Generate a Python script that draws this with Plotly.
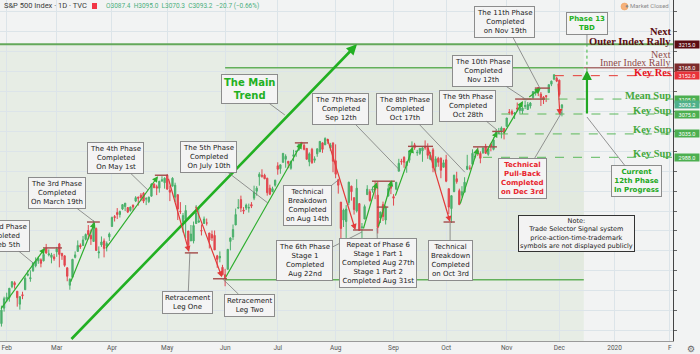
import pandas as pd
import plotly.graph_objects as go

# ---------------- data ----------------
HOLIDAYS = ["2019-02-18", "2019-04-19", "2019-05-27", "2019-07-04", "2019-09-02",
            "2019-11-28", "2019-12-25", "2020-01-01", "2020-01-20", "2020-02-17"]
CAL = list(pd.bdate_range("2019-01-28", "2020-02-14", freq="C", holidays=HOLIDAYS))
ANCHOR = CAL.index(pd.Timestamp("2019-02-01"))


def X(d):
    return CAL.index(pd.Timestamp(d)) - ANCHOR


FIRST_DAY = "2019-01-30"
LAST_DAY = "2019-12-03"
dates = CAL[CAL.index(pd.Timestamp(FIRST_DAY)):CAL.index(pd.Timestamp(LAST_DAY)) + 1]

opens = [2654, 2685,
         2703, 2706, 2728, 2736, 2719, 2693, 2712, 2722, 2751, 2744, 2760, 2770, 2780, 2782, 2780, 2805, 2792, 2787, 2788,
         2798, 2814, 2795, 2790, 2766, 2731, 2747, 2787, 2799, 2811, 2811, 2823, 2841, 2831, 2819, 2845, 2796, 2812, 2820, 2810, 2828,
         2849, 2869, 2877, 2873, 2884, 2889, 2887, 2881, 2892, 2900, 2908, 2912, 2916, 2904, 2899, 2910, 2934, 2929, 2926, 2940, 2937,
         2952, 2922, 2930, 2908, 2913, 2880, 2859, 2863, 2840, 2820, 2820, 2855, 2858, 2841, 2855, 2856, 2836, 2833, 2831, 2790, 2786, 2767,
         2752, 2763, 2819, 2828, 2852, 2886, 2903, 2882, 2886, 2886, 2893, 2906, 2920, 2949, 2952, 2952, 2946, 2926, 2919, 2932,
         2971, 2965, 2978, 2984, 2980, 2966, 2990, 2999, 3003, 3018, 3012, 3006, 2979, 3004, 2982, 2995, 2999, 3017, 3013, 3024, 3007, 3017,
         2981, 2943, 2898, 2862, 2859, 2897, 2930, 2907, 2880, 2895, 2847, 2864, 2913, 2919, 2922, 2930, 2912, 2866, 2893, 2862, 2910, 2938,
         2909, 2924, 2960, 2980, 2988, 2971, 2982, 3010, 3013, 2997, 2996, 3001, 3010, 3008, 2984, 3003, 2969, 2986, 2986, 2968,
         2983, 2925, 2885, 2919, 2945, 2921, 2912, 2918, 2964, 2966, 2974, 2989, 3001, 2996, 2997, 3010, 2994, 3014, 3004, 3033, 3036, 3039, 3046,
         3050, 3079, 3080, 3075, 3087, 3082, 3081, 3090, 3084, 3091, 3108, 3117, 3128, 3115, 3109, 3112, 3118, 3135, 3145, 3147,
         3143, 3087.4]
highs = [2690, 2708,
         2716, 2725, 2739, 2739, 2719, 2709, 2718, 2749, 2761, 2761, 2776, 2787, 2789, 2785, 2793, 2814, 2803, 2796, 2794,
         2808, 2816, 2796, 2791, 2767, 2745, 2784, 2799, 2821, 2815, 2830, 2835, 2852, 2843, 2861, 2847, 2809, 2829, 2825, 2819, 2837,
         2869, 2872, 2886, 2881, 2893, 2896, 2888, 2889, 2893, 2910, 2909, 2916, 2918, 2908, 2909, 2936, 2936, 2933, 2940, 2950, 2948,
         2954, 2931, 2948, 2937, 2913, 2898, 2876, 2892, 2840, 2852, 2859, 2892, 2886, 2853, 2869, 2865, 2836, 2841, 2841, 2792, 2799, 2772,
         2764, 2804, 2827, 2853, 2885, 2904, 2911, 2888, 2895, 2895, 2898, 2931, 2930, 2958, 2964, 2955, 2947, 2933, 2929, 2943,
         2978, 2973, 2996, 2994, 2980, 2981, 3003, 3002, 3014, 3018, 3016, 3006, 2998, 3007, 2990, 3006, 3019, 3018, 3028, 3025, 3017, 3017,
         3014, 2945, 2898, 2885, 2892, 2939, 2931, 2907, 2944, 2895, 2856, 2893, 2932, 2924, 2929, 2940, 2939, 2879, 2899, 2891, 2931, 2940,
         2914, 2938, 2985, 2985, 2990, 2979, 3001, 3020, 3017, 3003, 3006, 3008, 3022, 3016, 2999, 3007, 2990, 2989, 2988, 2983,
         2993, 2925, 2911, 2953, 2959, 2925, 2930, 2948, 2993, 2972, 3004, 2997, 3008, 3000, 3007, 3015, 3005, 3017, 3028, 3044, 3047, 3050, 3046,
         3066, 3085, 3084, 3079, 3098, 3094, 3088, 3102, 3099, 3099, 3121, 3124, 3128, 3119, 3111, 3112, 3134, 3142, 3154, 3150,
         3144, 3095.0]
lows = [2648, 2678,
        2697, 2698, 2725, 2724, 2688, 2682, 2703, 2722, 2749, 2738, 2758, 2767, 2774, 2767, 2779, 2794, 2789, 2775, 2780,
        2788, 2767, 2782, 2768, 2739, 2722, 2747, 2785, 2799, 2804, 2810, 2821, 2823, 2812, 2818, 2800, 2785, 2808, 2787, 2799, 2820,
        2849, 2859, 2864, 2867, 2882, 2880, 2876, 2879, 2881, 2898, 2891, 2900, 2896, 2892, 2896, 2909, 2926, 2912, 2917, 2940, 2925,
        2923, 2900, 2930, 2898, 2862, 2874, 2837, 2826, 2801, 2820, 2815, 2855, 2856, 2831, 2855, 2851, 2805, 2820, 2802, 2766, 2777, 2751,
        2729, 2763, 2801, 2822, 2852, 2884, 2878, 2874, 2882, 2877, 2886, 2902, 2911, 2931, 2947, 2944, 2911, 2912, 2918, 2929,
        2953, 2955, 2977, 2967, 2966, 2963, 2980, 2989, 3001, 3010, 3002, 2984, 2970, 2975, 2977, 2989, 2999, 2997, 3013, 3015, 3001, 2958,
        2946, 2915, 2822, 2848, 2826, 2892, 2901, 2873, 2877, 2840, 2826, 2864, 2913, 2899, 2917, 2904, 2835, 2856, 2860, 2853, 2910, 2914,
        2891, 2922, 2960, 2973, 2967, 2957, 2977, 3001, 3003, 2991, 2993, 2979, 3003, 2985, 2982, 2958, 2957, 2969, 2946, 2968,
        2938, 2874, 2856, 2918, 2935, 2892, 2907, 2918, 2963, 2962, 2974, 2986, 2991, 2976, 2995, 2995, 2991, 3000, 3002, 3033, 3034, 3026, 3024,
        3050, 3074, 3072, 3065, 3080, 3076, 3075, 3085, 3083, 3086, 3105, 3112, 3111, 3091, 3095, 3099, 3118, 3131, 3143, 3139,
        3110, 3070.3]
closes = [2681, 2704,
          2707, 2725, 2738, 2732, 2706, 2708, 2710, 2745, 2753, 2746, 2776, 2780, 2785, 2775, 2793, 2796, 2794, 2792, 2784,
          2804, 2793, 2790, 2771, 2749, 2743, 2783, 2792, 2811, 2808, 2822, 2833, 2833, 2824, 2855, 2801, 2798, 2818, 2805, 2815, 2834,
          2867, 2867, 2873, 2879, 2893, 2896, 2878, 2888, 2888, 2907, 2906, 2907, 2900, 2905, 2908, 2934, 2927, 2926, 2940, 2943, 2946,
          2924, 2918, 2946, 2932, 2884, 2879, 2871, 2881, 2812, 2834, 2851, 2876, 2860, 2840, 2864, 2856, 2822, 2826, 2802, 2783, 2789, 2752,
          2744, 2803, 2826, 2843, 2873, 2887, 2886, 2880, 2892, 2887, 2890, 2918, 2926, 2954, 2950, 2945, 2917, 2914, 2925, 2942,
          2964, 2973, 2996, 2990, 2976, 2980, 2993, 3000, 3014, 3014, 3004, 2984, 2995, 2977, 2985, 3005, 3020, 3004, 3026, 3021, 3013, 2980,
          2954, 2932, 2845, 2882, 2884, 2938, 2919, 2883, 2926, 2841, 2848, 2889, 2924, 2901, 2924, 2923, 2847, 2878, 2869, 2888, 2925, 2926,
          2906, 2938, 2976, 2979, 2978, 2979, 3001, 3010, 3007, 2998, 3006, 3007, 3007, 2992, 2992, 2967, 2985, 2978, 2962, 2977,
          2940, 2888, 2911, 2952, 2939, 2893, 2919, 2938, 2970, 2966, 2996, 2990, 2998, 2986, 3007, 2996, 3005, 3010, 3023, 3039, 3037, 3047, 3038,
          3067, 3078, 3075, 3077, 3085, 3093, 3087, 3092, 3094, 3097, 3120, 3122, 3120, 3108, 3104, 3110, 3134, 3141, 3154, 3141,
          3114, 3093.2]

MONTH_STARTS = ["2019-02-01", "2019-03-01", "2019-04-01", "2019-05-01", "2019-06-03", "2019-07-01",
                "2019-08-01", "2019-09-03", "2019-10-01", "2019-11-01", "2019-12-02", "2020-01-02", "2020-02-03"]
MONTH_LABELS = ["Feb", "Mar", "Apr", "May", "Jun", "Jul", "Aug", "Sep", "Oct", "Nov", "Dec", "2020", "F"]

LEVEL_PRICES = [3215.0, 3168.0, 3152.0, 3105.0, 3093.2, 3075.0, 3035.0, 2988.0]
LEVEL_COLORS = ["#5b0d12", "#7d2b2b", "#e8333a", "#4caf50", "#4fb08a", "#4caf50", "#4caf50", "#4caf50"]

# ---------------- figure ----------------
xs = [X(d) for d in dates]
XMIN, XMAX = -2.55, 253.2
YMIN, YMAX = 2619, 3304
SHADE_END = 219.3
BOX_START = X("2019-06-03")

GREEN_C = "#4bb06c"
RED_C = "#e2474f"

fig = go.Figure(go.Candlestick(
    x=xs, open=opens, high=highs, low=lows, close=closes,
    increasing=dict(line=dict(color=GREEN_C, width=1), fillcolor=GREEN_C),
    decreasing=dict(line=dict(color=RED_C, width=1), fillcolor=RED_C),
    whiskerwidth=0, showlegend=False, hoverinfo="skip"))

BG = "#f2f3f3"
GRID = "#dce4e9"
fig.update_layout(
    width=700, height=354, margin=dict(l=0, r=27, t=0, b=13),
    paper_bgcolor=BG, plot_bgcolor=BG, showlegend=False,
    font=dict(family="DejaVu Sans", size=7, color="#222"),
    xaxis=dict(range=[XMIN, XMAX], tickvals=[X(d) for d in MONTH_STARTS], ticktext=MONTH_LABELS,
               showgrid=True, gridcolor=GRID, gridwidth=1, zeroline=False, rangeslider=dict(visible=False),
               showline=True, linecolor="#9a9a9a", ticks="", tickfont=dict(family="Roboto", size=6.5, color="#555")),
    yaxis=dict(side="right", range=[YMIN, YMAX], tickvals=list(range(2640, 3300, 40)), showticklabels=False,
               ticks="outside", ticklen=3, tickcolor="#666", showgrid=True, gridcolor=GRID, gridwidth=1,
               zeroline=False, showline=True, linecolor="#444", linewidth=1),
)

# shaded zones
fig.add_shape(type="rect", xref="x", yref="y", x0=XMIN, x1=SHADE_END, y0=YMIN, y1=3215,
              fillcolor="#e7ede5", line=dict(width=0), layer="below")
fig.add_shape(type="rect", xref="x", yref="y", x0=BOX_START, x1=SHADE_END, y0=2742, y1=3168,
              fillcolor="#e2e9df", line=dict(width=0), layer="below")


def hline(y, x0, x1, color, width=1.0, dash="solid"):
    fig.add_shape(type="line", xref="x", yref="y", x0=x0, x1=x1, y0=y, y1=y,
                  line=dict(color=color, width=width, dash=dash))


hline(3215, XMIN, XMAX, "#63a85a", 2)
hline(3168, BOX_START, SHADE_END, "#63b05a", 1.5)
hline(3168, SHADE_END, XMAX, "#a9706f", 1.5)
hline(2742, BOX_START, SHADE_END, "#63b05a", 1.5)
hline(3152, 208.3, XMAX, "#e53935", 1, "dash")
hline(3105, 196, XMAX, "#5cb85c", 1, "dash")
hline(3075, 188, XMAX, "#5cb85c", 1, "dash")
hline(3035, 187, XMAX, "#5cb85c", 1, "dash")
hline(2988, 181, XMAX, "#5cb85c", 1, "dash")
fig.add_shape(type="line", xref="x", yref="y", x0=220.5, x1=220.5, y0=3150, y1=3215,
              line=dict(color="#3cb83c", width=1, dash="dot"))

# phase top / bottom markers
MK = "#a34a4a"
markers = [(2806, 13.8, 21.0), (2858, 30.5, 35.4), (2952, 56.3, 61.3), (2796, 67.7, 72.7),
           (2744, 78.4, 83.7), (3017, 109.5, 114.5), (2842, 131.6, 139.2), (2940, 138.8, 147.5),
           (2888, 140.7, 145.0), (3010, 152.5, 162.0), (2858, 166.0, 170.3), (3009, 177.2, 186.3),
           (3040, 184.5, 188.5), (3105, 193.2, 204.5), (3127, 200.7, 206.4)]
for y, a, b in markers:
    hline(y, a, b, MK, 1.4)


def arrow(x0, y0, x1, y1, color, width=1.2, size=1.0):
    fig.add_annotation(x=x1, y=y1, ax=x0, ay=y0, xref="x", yref="y", axref="x", ayref="y",
                       text="", showarrow=True, arrowhead=2, arrowsize=size, arrowwidth=width,
                       arrowcolor=color, standoff=0, startstandoff=0)


GA = "#2eae2e"
RA = "#e23a3a"
# the main trend
arrow(24.05, 2620, 133.1, 3215, "#22b022", 2.6, 0.8)
# phase legs
arrow(XMIN, 2681, 14.6, 2806, GA)
arrow(24.1, 2735, 33.5, 2858, GA)
arrow(37.3, 2802, 57.5, 2950, GA)
arrow(61.3, 2948, 69.3, 2798, RA)
arrow(71.6, 2892, 81.8, 2747, RA)
arrow(83.0, 2745, 112.2, 3017, GA)
arrow(121.7, 3028, 132.5, 2842, RA)
arrow(135.4, 2842, 140.7, 2938, GA)
arrow(141.1, 2846, 146.4, 2942, GA)
arrow(147.5, 2908, 154.4, 3009, GA)
arrow(160.0, 3009, 168.5, 2858, RA)
arrow(172.2, 2892, 179.1, 3007, GA)
arrow(182.0, 2996, 186.5, 3040, GA)
arrow(188.6, 3033, 196.2, 3101, GA)
arrow(198.0, 3107, 203.0, 3127, GA)
arrow(209.5, 3139, 210.2, 3073, RA)
arrow(220.5, 3073, 220.5, 3163, "#22a822", 2.2, 0.9)


def callout(text, tx, ty, ax, ay, color="#222", size=7, bold=False):
    if bold:
        text = "<b>" + text + "</b>"
    fig.add_annotation(x=tx, y=ty, xref="x", yref="y", ax=ax, ay=ay, text=text,
                       showarrow=True, arrowhead=0, arrowwidth=0.8, arrowcolor="#7a7a7a",
                       font=dict(family="DejaVu Sans", size=size, color=color),
                       bgcolor="#f4f4f4", bordercolor="#8c8c8c", borderwidth=1, borderpad=2, align="center")


callout("The 2nd Phase<br>Completed<br>On Feb 5th", 10.0, 2776, -34, -27)
callout("The 3rd Phase<br>Completed<br>On March 19th", 33.5, 2858, -38, -29)
callout("The 4th Phase<br>Completed<br>On May 1st", 53.7, 2922, -33, -32)
callout("The 5th Phase<br>Completed<br>On July 10th", 99.3, 2896, -60, -46)
callout("The Main<br>Trend", 105.7, 3073, -35, -26, color="#22b022", size=10, bold=True)
callout("The 7th Phase<br>Completed<br>Sep 12th", 149.4, 2962, -59, -61)
callout("The 8th Phase<br>Completed<br>Oct 17th", 174.1, 2958, -60, -63)
callout("The 9th Phase<br>Completed<br>Oct 28th", 186.3, 3043, -29, -24)
callout("The 10th Phase<br>Completed<br>Nov 12th", 197.7, 3103, -44, -29)
callout("The 11th Phase<br>Completed<br>on Nov 19th", 202.6, 3127, -35, -66)
callout("Phase 13<br>TBD", 220.5, 3215, 0, -21, color="#22b022", size=7, bold=True)
callout("Technical<br>Breakdown<br>Completed<br>on Aug 14th", 125.9, 2942, -31, 25)
callout("The 6th Phase<br>Stage 1<br>Completed<br>Aug 22nd", 135.0, 2838, -57, 29)
callout("Repeat of Phase 6<br>Stage 1 Part 1<br>Completed Aug 27th<br>Stage 1 Part 2<br>Completed Aug 31st",
        140.7, 2846, 1, 35)
callout("Technical<br>Breakdown<br>Completed<br>on Oct 3rd", 168.5, 2856, 0, 37)
callout("Technical<br>Pull-Back<br>Completed<br>on Dec 3rd", 211.0, 3079, -39, 66, color="#e8262e", bold=True)
callout("Current<br>12th Phase<br>In Progress", 220.5, 3069, 50, 64, color="#22a822", bold=True)
callout("Retracement<br>Leg One", 69.6, 2796, -2, 50)
callout("Retracement<br>Leg Two", 81.8, 2745, 28, 27)

fig.add_annotation(x=576 / 673, y=1 - 234 / 341, xref="paper", yref="paper", xanchor="center", yanchor="middle",
                   showarrow=False,
                   text="Note:<br>Trade Selector Signal system<br>price-action-time-trademark<br>symbols are not displayed publicly",
                   font=dict(family="DejaVu Sans", size=6.5, color="#222"), bgcolor="#f3f3f3",
                   bordercolor="#333", borderwidth=1, borderpad=1)

# right side level texts
SERIF = "Liberation Serif"
right_texts = [("Next", 3240.5, "#5b0d12", True, 10.5), ("Outer Index Rally", 3221.0, "#5b0d12", True, 10.5),
               ("Next", 3194.0, "#8e4a4a", False, 10), ("Inner Index Rally", 3177.5, "#8e4a4a", False, 10),
               ("Key Res", 3159.0, "#e8141e", True, 10.5), ("Mean Sup", 3113.1, "#45a83e", True, 10.5),
               ("Key Sup", 3083.0, "#45a83e", True, 10.5), ("Key Sup", 3044.3, "#45a83e", True, 10.5),
               ("Key Sup", 2996.0, "#45a83e", True, 10.5)]
for t, y, c, b, s in right_texts:
    fig.add_annotation(x=1, y=y, xref="paper", yref="y", xanchor="right", yanchor="middle", xshift=-1,
                       text=("<b>%s</b>" % t) if b else t, showarrow=False, borderpad=0,
                       font=dict(family=SERIF, size=s, color=c))

# price badges on the axis
for p, c in zip(LEVEL_PRICES, LEVEL_COLORS):
    fig.add_annotation(x=1, y=p, xref="paper", yref="y", xanchor="left", yanchor="middle", xshift=1,
                       text="%.1f" % p, showarrow=False, width=24, height=7, align="center", valign="middle",
                       font=dict(family="Roboto", size=5.5, color="white"), bgcolor=c, borderpad=0)

# header
fig.add_annotation(x=2 / 673, y=1 - 6 / 341, xref="paper", yref="paper", xanchor="left", yanchor="middle",
                   text="S&amp;P 500 Index · 1D · TVC", showarrow=False,
                   font=dict(family="Roboto", size=7.5, color="#3a3a3a"))
fig.add_shape(type="rect", xref="paper", yref="paper", x0=92 / 673, x1=97 / 673, y0=1 - 9 / 341, y1=1 - 3 / 341,
              fillcolor="#f23645", line=dict(width=0))
fig.add_annotation(x=104 / 673, y=1 - 6 / 341, xref="paper", yref="paper", xanchor="left", yanchor="middle",
                   text="O3087.4  H3095.0  L3070.3  C3093.2  −20.7 (−0.66%)", showarrow=False,
                   font=dict(family="Roboto", size=6.5, color="#4caf7d"))
fig.add_shape(type="circle", xref="paper", yref="paper", x0=621 / 673, x1=628 / 673, y0=1 - 10 / 341, y1=1 - 3 / 341,
              fillcolor="#f6b27a", line=dict(color="#ee9a55", width=0.5))
fig.add_annotation(x=671 / 673, y=1 - 6 / 341, xref="paper", yref="paper", xanchor="right", yanchor="middle",
                   text="● Market Closed", showarrow=False,
                   font=dict(family="Roboto", size=6, color="#8a8a8a"))
fig.add_annotation(x=1, y=0, xref="paper", yref="paper", xanchor="left", yanchor="top", xshift=12, yshift=-1,
                   text="⚙", showarrow=False, font=dict(size=9, color="#666"))

fig.write_html("out.html")
